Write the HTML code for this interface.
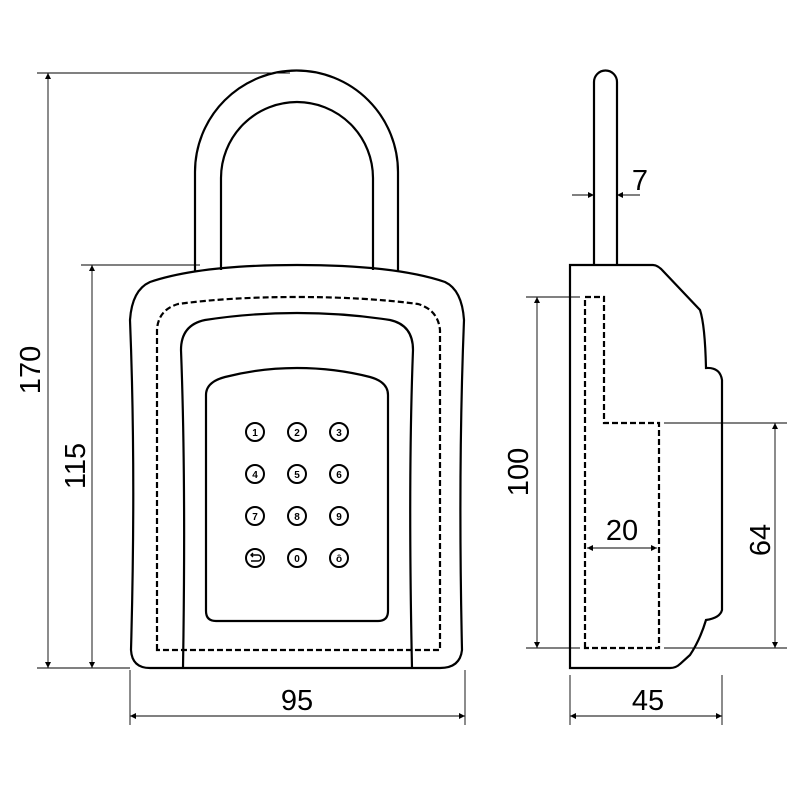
<!DOCTYPE html>
<html><head><style>body{margin:0;background:#fff}</style></head><body>
<svg width="800" height="800" viewBox="0 0 800 800" xmlns="http://www.w3.org/2000/svg">
<defs>
<marker id="a" viewBox="0 0 10 10" refX="10" refY="5" markerWidth="10" markerHeight="6" orient="auto-start-reverse" markerUnits="userSpaceOnUse"><path d="M0,0 L10,5 L0,10z" fill="#000"/></marker>
</defs>
<g fill="none" stroke="#000" stroke-width="2.2">
<path d="M195,272 V172 A101.5,101.5 0 0 1 398,172 V272"/>
<path d="M221,270 V178 A76,76 0 0 1 373,178 V270"/>
<path d="M150,282 Q200,265 297,265 Q395,265 445,282 Q462,290 464,320 Q458,470 462,650 Q460,668 440,668 H150 Q132,668 131,650 Q136,470 130,320 Q132,290 150,282Z"/>
<path d="M157,650 V330 Q158,310 178,304 Q230,297 297,297 Q365,297 418,304 Q438,310 440,330 V650Z" stroke-dasharray="6,3"/>
<path d="M183,668 Q186,480 181,350 Q181,325 205,320 Q250,313 297,313 Q345,313 390,320 Q413,325 413,350 Q408,480 412,668"/>
<path d="M206,395 Q206,382 225,377 Q260,368 297,368 Q335,368 370,377 Q388,382 388,395 V611 Q388,621 378,621 H216 Q206,621 206,611Z"/>
<path d="M594,265 V82 A11.5,11.5 0 0 1 617,82 V265"/>
<path d="M570,668 V265 H653 Q658,265 664,272 L700,310 Q705,325 706,368 Q720,367 722,380 V610 Q720,618 706,620 Q700,640 690,655 L680,664 Q676,668 670,668Z"/>
<path d="M585,648 V297 H604 V423 H659 V648Z" stroke-dasharray="6,3"/>
</g>
<g fill="none" stroke="#000" stroke-width="2">
<circle cx="255" cy="432" r="9"/><circle cx="297" cy="432" r="9"/><circle cx="339" cy="432" r="9"/>
<circle cx="255" cy="474" r="9"/><circle cx="297" cy="474" r="9"/><circle cx="339" cy="474" r="9"/>
<circle cx="255" cy="516" r="9"/><circle cx="297" cy="516" r="9"/><circle cx="339" cy="516" r="9"/>
<circle cx="255" cy="558" r="9"/><circle cx="297" cy="558" r="9"/><circle cx="339" cy="558" r="9"/>
<path d="M251,555 H258 A3,3 0 0 1 258,561 H251 M253,553 L251,555 L253,557" stroke-width="1.4"/>
</g>
<g font-family="Liberation Sans, sans-serif" font-size="10" font-weight="bold" text-anchor="middle">
<text x="255" y="436">1</text><text x="297" y="436">2</text><text x="339" y="436">3</text>
<text x="255" y="478">4</text><text x="297" y="478">5</text><text x="339" y="478">6</text>
<text x="255" y="520">7</text><text x="297" y="520">8</text><text x="339" y="520">9</text>
<text x="297" y="562">0</text><text x="339" y="562">ȏ</text>
</g>
<g stroke="#000" stroke-width="0.9" fill="none">
<path d="M37,73 H290 M37,668 H130 M81,265 H200 M130,670 V725 M465,670 V725"/>
<path d="M48,73 V668" marker-start="url(#a)" marker-end="url(#a)"/>
<path d="M92,265 V668" marker-start="url(#a)" marker-end="url(#a)"/>
<path d="M130,716 H465" marker-start="url(#a)" marker-end="url(#a)"/>
<path d="M526,297 H580 M526,648 H580 M664,423 H787 M664,648 H787 M570,675 V725 M722,675 V725"/>
<path d="M537,297 V648" marker-start="url(#a)" marker-end="url(#a)"/>
<path d="M775,423 V648" marker-start="url(#a)" marker-end="url(#a)"/>
<path d="M587,548 H657" marker-start="url(#a)" marker-end="url(#a)"/>
<path d="M570,716 H722" marker-start="url(#a)" marker-end="url(#a)"/>
<path d="M572,195 H594" marker-end="url(#a)"/>
<path d="M640,195 H617" marker-end="url(#a)"/>
</g>
<g font-family="Liberation Sans, sans-serif" font-size="29" text-anchor="middle" fill="#000">
<text x="297" y="710">95</text>
<text x="648" y="710">45</text>
<text x="622" y="540">20</text>
<text x="640" y="190">7</text>
<text transform="translate(40,370) rotate(-90)">170</text>
<text transform="translate(85,466) rotate(-90)">115</text>
<text transform="translate(528,472) rotate(-90)">100</text>
<text transform="translate(770,540) rotate(-90)">64</text>
</g>
</svg>
</body></html>
